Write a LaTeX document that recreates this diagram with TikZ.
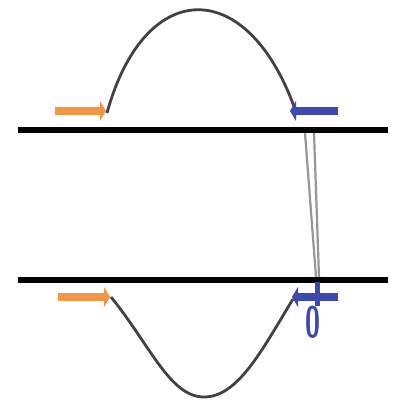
\documentclass[tikz,border=0pt]{standalone}
\usetikzlibrary{arrows.meta}
\definecolor{orangeA}{RGB}{242,150,70}
\definecolor{blueA}{RGB}{62,72,175}
\definecolor{curveC}{RGB}{70,65,65}
\definecolor{greyL}{RGB}{150,150,150}
\tikzset{
  rail/.style={line width=6pt, black},
  wave/.style={line width=2.8pt, curveC},
  oarrow/.style={line width=8pt, orangeA, -{Triangle[length=6pt,width=20pt]}},
  barrow/.style={line width=8pt, blueA, -{Triangle[length=6pt,width=20pt]}},
  thin/.style={line width=2.2pt, greyL}
}
\begin{document}
\begin{tikzpicture}[x=1pt,y=-1pt]
\useasboundingbox (0,0) rectangle (404,403);
% rails
\coordinate (r1a) at (18,130); \coordinate (r1b) at (388,130);
\coordinate (r2a) at (18,280); \coordinate (r2b) at (388,280);
% connector lines between rails
\coordinate (ca) at (305,133); \coordinate (cb) at (316,277);
\coordinate (cc) at (314,133); \coordinate (cd) at (319,277);
\draw[thin] (ca) -- (cb);
\draw[thin] (cc) -- (cd);
\draw[rail] (r1a) -- (r1b);
\draw[rail] (r2a) -- (r2b);
% waves
\coordinate (w1s) at (107,113); \coordinate (w1e) at (297,115);
\coordinate (w2s) at (111,297); \coordinate (w2e) at (293,299);
\coordinate (w2m) at (204,397);
\draw[wave] (w1s) .. controls (145,-25) and (250,-25) .. (w1e);
\draw[wave] (w2s) .. controls (150,345) and (170,397) .. (w2m)
  .. controls (238,397) and (262,350) .. (w2e);
% arrows
\coordinate (o1s) at (55,111); \coordinate (o1e) at (106,111);
\coordinate (o2s) at (58,297); \coordinate (o2e) at (110,297);
\coordinate (b1s) at (338,111); \coordinate (b1e) at (290,111);
\coordinate (b2s) at (338,297); \coordinate (b2e) at (292,297);
\draw[oarrow] (o1s) -- (o1e);
\draw[oarrow] (o2s) -- (o2e);
\draw[barrow] (b1s) -- (b1e);
\draw[barrow] (b2s) -- (b2e);
\coordinate (bv1) at (317,282); \coordinate (bv2) at (317,306);
\draw[line width=5pt, blueA] (bv1) -- (bv2);
% label
\node[text=blueA, font=\sffamily\bfseries\fontsize{44}{44}\selectfont, xscale=0.62, inner sep=0] (zero) at (313,322) {0};
\end{tikzpicture}
\end{document}
